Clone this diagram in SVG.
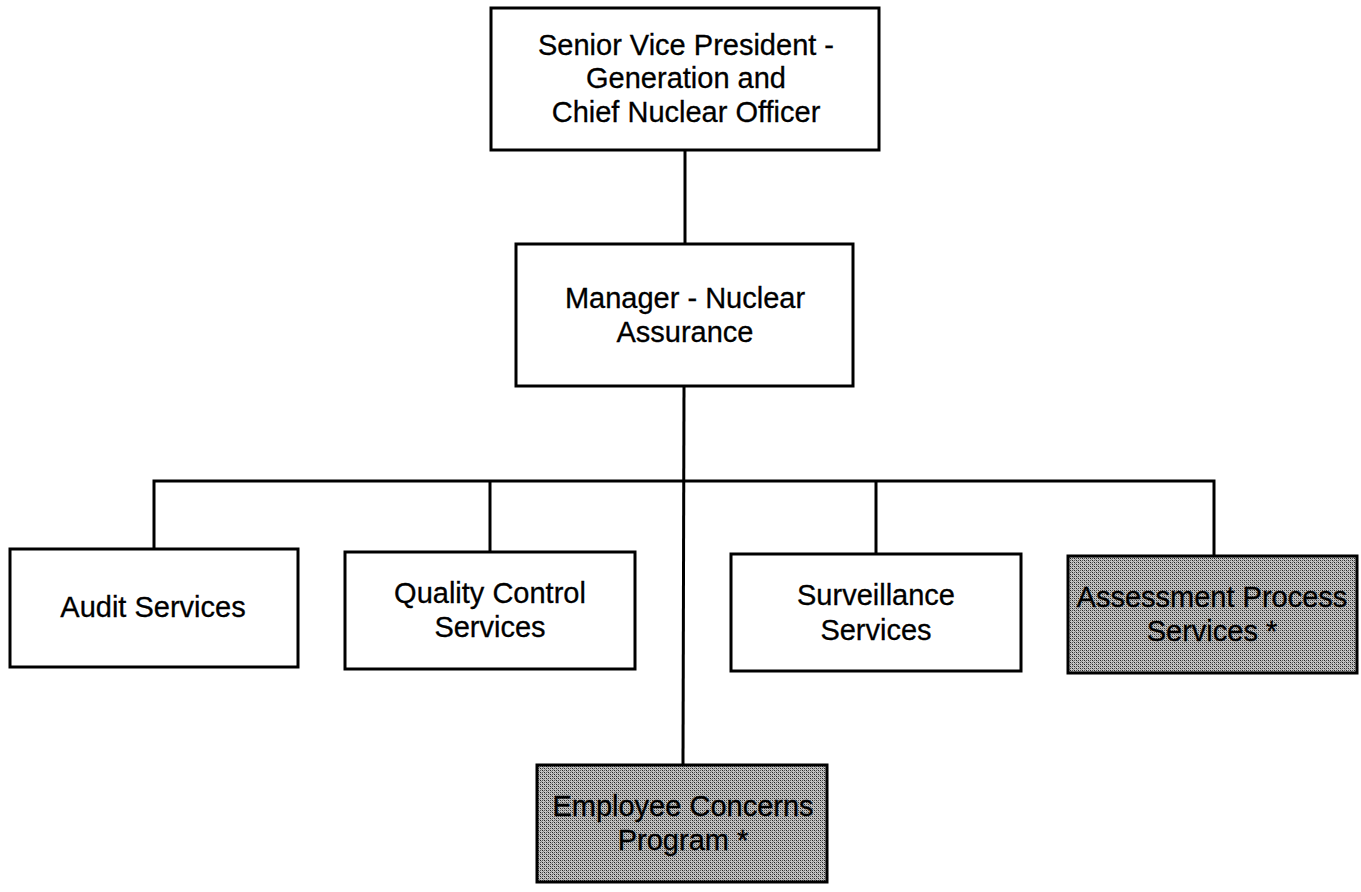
<svg xmlns="http://www.w3.org/2000/svg" width="1361" height="892" viewBox="0 0 1361 892">
<style>
.box{fill:#fff;stroke:#000;stroke-width:3}
.shade{fill:url(#dither);stroke:#000;stroke-width:3}
.lbl{font-family:"Liberation Sans",Arial,sans-serif;font-size:29px;fill:#000;text-anchor:middle;stroke:#000;stroke-width:0.3}
.conn{fill:none;stroke:#000;stroke-width:3}
</style>
<defs>
<pattern id="dither" width="4" height="4" patternUnits="userSpaceOnUse">
<rect width="4" height="4" fill="#c4c4c4"/>
<rect x="0" y="0" width="1" height="1" fill="#222"/>
<rect x="2" y="2" width="1" height="1" fill="#222"/>
<rect x="2" y="0" width="1" height="1" fill="#555"/>
<rect x="0" y="2" width="1" height="1" fill="#555"/>
<rect x="1" y="1" width="1" height="1" fill="#888"/>
<rect x="3" y="3" width="1" height="1" fill="#888"/>
</pattern>
</defs>
<rect width="1361" height="892" fill="#fff"/>
<g id="connectors">
<line class="conn" x1="685" y1="150" x2="685" y2="244"/>
<line class="conn" x1="684" y1="386" x2="683" y2="765"/>
<polyline class="conn" points="154,549 154,481 1214,481 1214,556"/>
<line class="conn" x1="490" y1="481" x2="490" y2="552"/>
<line class="conn" x1="876" y1="481" x2="876" y2="554"/>
</g>
<g id="svp">
<rect class="box" x="491" y="8" width="388" height="142"/>
<text class="lbl" x="686" y="55">Senior Vice President -</text>
<text class="lbl" x="686" y="88">Generation and</text>
<text class="lbl" x="686" y="122">Chief Nuclear Officer</text>
</g>
<g id="manager">
<rect class="box" x="516" y="244" width="337" height="142"/>
<text class="lbl" x="685" y="308">Manager - Nuclear</text>
<text class="lbl" x="685" y="342">Assurance</text>
</g>
<g id="audit">
<rect class="box" x="10" y="549" width="288" height="118"/>
<text class="lbl" x="153" y="617">Audit Services</text>
</g>
<g id="qc">
<rect class="box" x="345" y="552" width="290" height="117"/>
<text class="lbl" x="490" y="603">Quality Control</text>
<text class="lbl" x="490" y="637">Services</text>
</g>
<g id="surveillance">
<rect class="box" x="731" y="554" width="290" height="117"/>
<text class="lbl" x="876" y="605">Surveillance</text>
<text class="lbl" x="876" y="640">Services</text>
</g>
<g id="assessment">
<rect class="shade" x="1068" y="556" width="289" height="117"/>
<text class="lbl" x="1212" y="607">Assessment Process</text>
<text class="lbl" x="1212" y="641">Services *</text>
</g>
<g id="employee">
<rect class="shade" x="537" y="765" width="290" height="117"/>
<text class="lbl" x="683" y="816">Employee Concerns</text>
<text class="lbl" x="683" y="850">Program *</text>
</g>
</svg>
